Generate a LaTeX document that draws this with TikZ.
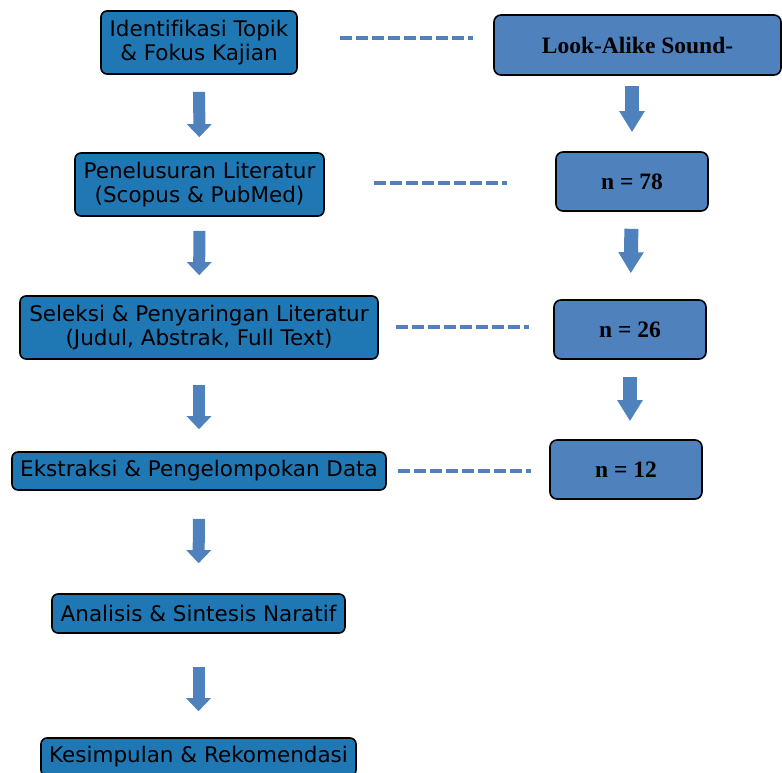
\documentclass[tikz,border=0pt]{standalone}
\usepackage{fontspec}
\setmainfont[Ligatures=NoCommon]{DejaVu Sans}
\newfontfamily\serifbold{Liberation Serif}
\usetikzlibrary{arrows.meta}
\definecolor{stepblue}{RGB}{31,119,180}
\definecolor{countblue}{RGB}{79,129,189}
\begin{document}
\begin{tikzpicture}[x=1pt,y=-1pt,
    stepbox/.style={draw=black,line width=1.6pt,rounded corners=6pt,fill=stepblue,
        align=center,inner sep=0pt,font=\fontsize{21.5}{24.5}\selectfont},
    countbox/.style={draw=black,line width=1.6pt,rounded corners=7pt,fill=countblue,
        minimum width=152pt,minimum height=59pt,inner sep=0pt,
        font=\serifbold\bfseries\fontsize{23.5}{26}\selectfont},
    blockdown/.style={draw=countblue,line width=12pt,
        -{Triangle[width=24pt,length=13pt]}},
    blockright/.style={draw=countblue,line width=14pt,
        -{Triangle[width=24pt,length=21pt]}},
    link/.style={draw=countblue,line width=3.5pt,dash pattern=on 12pt off 4pt}]
        \useasboundingbox (0,0) rectangle (782,773);
        % left column
        \node[stepbox,minimum width=196pt,minimum height=63pt] (topik) at (199,42.5)
            {Identifikasi Topik\\\& Fokus Kajian};
        \node[stepbox,minimum width=249pt,minimum height=63pt] (telusur) at (199.5,184.5)
            {Penelusuran Literatur\\(Scopus \& PubMed)};
        \node[stepbox,minimum width=358pt,minimum height=63pt] (seleksi) at (199,327.5)
            {Seleksi \& Penyaringan Literatur\\(Judul, Abstrak, Full Text)};
        \node[stepbox,minimum width=374pt,minimum height=38pt] (ekstraksi) at (199,471)
            {Ekstraksi \& Pengelompokan Data};
        \node[stepbox,minimum width=293pt,minimum height=39pt] (analisis) at (198.5,613.5)
            {Analisis \& Sintesis Naratif};
        \node[stepbox,minimum width=315pt,minimum height=38pt] (simpul) at (198.5,757)
            {Kesimpulan \& Rekomendasi};
        % right column
        \node[countbox,minimum width=287pt,minimum height=60pt] (lasa) at (637.5,45)
            {Look-Alike Sound-};
        \node[countbox] (n78) at (632,181.5) {n = 78};
        \node[countbox] (n26) at (630,329.5) {n = 26};
        \node[countbox] (n12) at (626,469.5) {n = 12};
        % block arrows
        \draw[blockdown,shorten <=17pt,shorten >=15pt] (topik) to (telusur);
        \draw[blockdown,shorten <=14pt,shorten >=20pt] (telusur) to (seleksi);
        \draw[blockdown,shorten <=25pt,shorten >=22pt] (seleksi) to (ekstraksi);
        \draw[blockdown,shorten <=28pt,shorten >=30pt] (ekstraksi) to (analisis);
        \draw[blockdown,shorten <=33pt,shorten >=26pt] (analisis) to (simpul);
        \draw[blockright,shorten <=10pt,shorten >=19pt] (lasa.south -| n78.north) to (n78);
        \draw[blockright,shorten <=17pt,shorten >=26pt] (n78) to (n26);
        \draw[blockright,shorten <=17pt,shorten >=18pt] (n26) to (n12.north -| n26.north);
        % dashed links
        \coordinate (d1a) at (340,38);  \coordinate (d1b) at (473,38);
        \coordinate (d2a) at (374,183); \coordinate (d2b) at (507,183);
        \coordinate (d3a) at (396,327); \coordinate (d3b) at (529,327);
        \coordinate (d4a) at (398,471); \coordinate (d4b) at (531,471);
        \draw[link] (d1a) to (d1b);
        \draw[link] (d2a) to (d2b);
        \draw[link] (d3a) to (d3b);
        \draw[link] (d4a) to (d4b);
    \end{tikzpicture}
\end{document}
